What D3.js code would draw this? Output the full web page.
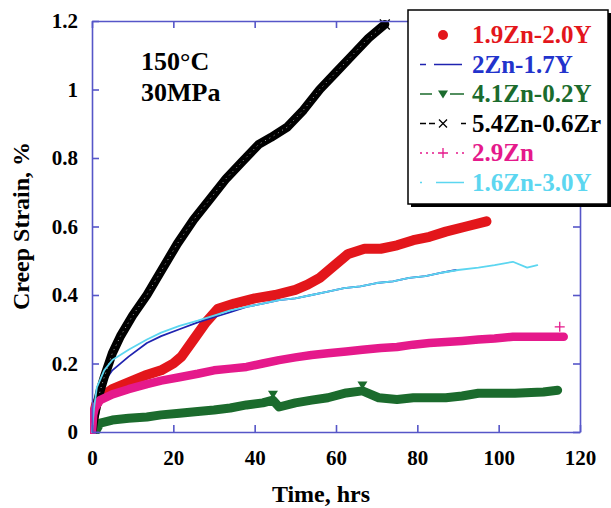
<!DOCTYPE html>
<html>
<head>
<meta charset="utf-8">
<script src="https://cdn.jsdelivr.net/npm/d3@7"></script>
<style>
  body { margin: 0; background: #fff; }
  text { font-family: "Liberation Serif", "Times New Roman", serif; font-weight: bold; }
</style>
</head>
<body>
<div id="chart"></div>
<script>
// time (hrs), creep strain (%) pairs
var red19Zn = [[0,0],[0.5,0.05],[1,0.08],[2,0.1],[5,0.125],[9,0.145],[13,0.165],[17,0.18],[20,0.2],[22,0.22],[25,0.27],[28,0.32],[31,0.36],[35,0.375],[40,0.39],[45,0.4],[50,0.415],[53,0.43],[56,0.45],[60,0.49],[63,0.52],[67,0.535],[71,0.535],[75,0.545],[79,0.56],[83,0.57],[87,0.585],[92,0.6],[97,0.615]];
var blue2Zn = [[0,0],[0.5,0.06],[1,0.1],[2,0.13],[5,0.18],[9,0.22],[13.5,0.26],[17,0.28],[21.5,0.3],[26,0.32],[30,0.335],[34,0.35],[38,0.365],[42,0.375],[46,0.385],[50,0.39],[54,0.4],[58,0.41],[62,0.42],[66,0.425],[70,0.435],[74,0.44],[78,0.45],[82,0.455],[86,0.465],[89.5,0.473]];
var green41Zn = [[0.8,0.0],[2,0.026],[5,0.035],[9,0.04],[13.5,0.044],[17,0.05],[21.5,0.055],[26,0.06],[30,0.064],[34,0.07],[38,0.079],[42,0.085],[44.5,0.093],[46,0.073],[50,0.085],[54,0.093],[58,0.1],[62.5,0.114],[66.5,0.12],[70.5,0.1],[75,0.095],[79,0.1],[83,0.1],[87,0.1],[91,0.105],[95,0.113],[100,0.113],[104,0.113],[108,0.115],[111,0.117],[114.5,0.122]];
var black54Zn = [[0,0],[0.5,0.04],[1,0.07],[2,0.12],[3,0.16],[5,0.23],[7,0.28],[10,0.34],[13.5,0.4],[17,0.47],[21,0.55],[25,0.62],[29,0.68],[33,0.74],[37,0.79],[41,0.84],[44,0.86],[48,0.89],[52,0.94],[56,1.0],[60,1.05],[64,1.1],[68,1.15],[72,1.19]];
var pink29Zn = [[0,0],[0.3,0.05],[0.7,0.07],[2,0.093],[5,0.11],[9,0.125],[13.5,0.14],[17,0.15],[21.5,0.16],[26,0.17],[30,0.18],[34,0.185],[38,0.19],[42,0.2],[46,0.21],[50,0.218],[54,0.225],[58,0.23],[62.5,0.235],[66.5,0.24],[71,0.245],[75,0.248],[79,0.255],[83,0.26],[87,0.263],[91,0.266],[95,0.27],[99,0.273],[103.5,0.278],[108,0.278],[112,0.278],[116,0.278]];
var cyan16Zn = [[0,0],[0.5,0.07],[1.2,0.13],[3,0.18],[5,0.21],[9,0.24],[13.5,0.27],[17,0.29],[21.5,0.31],[26,0.325],[30,0.34],[34,0.355],[38,0.365],[42,0.375],[46,0.385],[50,0.39],[54,0.4],[58,0.41],[62,0.42],[66,0.425],[70,0.435],[74,0.44],[78,0.45],[82,0.455],[86,0.465],[90,0.473],[95,0.48],[99,0.487],[103.5,0.497],[107,0.48],[109.5,0.487]];

var seriesNames = ["1.9Zn-2.0Y", "2Zn-1.7Y", "4.1Zn-0.2Y", "5.4Zn-0.6Zr", "2.9Zn", "1.6Zn-3.0Y"];
var seriesColors = ["#e3161b", "#1f23b0", "#1b6b2d", "#000000", "#e5198b", "#5cd6f0"];
var seriesData = [red19Zn, blue2Zn, green41Zn, black54Zn, pink29Zn, cyan16Zn];
var seriesWidths = [10, 1.8, 9, 9, 8.5, 1.8];
var seriesMarkers = ["circle", "none", "triangle", "x", "plus", "none"];
// green points that show a visible triangle marker
var greenMarked = [44.5, 66.5];

var xTicks = [0, 20, 40, 60, 80, 100, 120];
var yTicks = [0, 0.2, 0.4, 0.6, 0.8, 1, 1.2];

var width = 611, height = 508;
var margin = {top: 21, right: 31, bottom: 76, left: 92};
var plotW = width - margin.left - margin.right,
    plotH = height - margin.top - margin.bottom;
var axisColor = "#5656c8";

var svg = d3.select("#chart").append("svg")
    .attr("width", width)
    .attr("height", height);

var g = svg.append("g")
    .attr("transform", "translate(" + margin.left + "," + margin.top + ")");

var x = d3.scaleLinear().domain([0, 120]).range([0, plotW]);
var y = d3.scaleLinear().domain([0, 1.2]).range([plotH, 0]);

g.append("clipPath").attr("id", "plotclip")
    .append("rect").attr("x", -2).attr("y", -2).attr("width", plotW + 4).attr("height", plotH + 4);

var line = d3.line()
    .x(function(d) { return x(d[0]); })
    .y(function(d) { return y(d[1]); });

function drawMarker(sel, type, color, s) {
    if (type == "circle") {
        sel.append("circle").attr("r", s).attr("fill", color);
    } else if (type == "triangle") {
        sel.append("path").attr("d", "M" + (-s) + "," + (-s * 0.7) + "L" + s + "," + (-s * 0.7) + "L0," + (s * 0.9) + "Z")
            .attr("fill", color);
    } else if (type == "x") {
        sel.append("path").attr("d", "M" + (-s) + "," + (-s) + "L" + s + "," + s + "M" + (-s) + "," + s + "L" + s + "," + (-s))
            .attr("stroke", color).attr("stroke-width", 1.3).attr("fill", "none");
    } else if (type == "plus") {
        sel.append("path").attr("d", "M" + (-s) + ",0L" + s + ",0M0," + (-s) + "L0," + s)
            .attr("stroke", color).attr("stroke-width", 1.3).attr("fill", "none");
    }
}

var dataLayer = g.append("g").attr("clip-path", "url(#plotclip)");

seriesData.forEach(function(data, i) {
    dataLayer.append("path")
        .datum(data)
        .attr("d", line)
        .attr("fill", "none")
        .attr("stroke", seriesColors[i])
        .attr("stroke-width", seriesWidths[i])
        .attr("stroke-linejoin", "round")
        .attr("stroke-linecap", "round");

    if (seriesMarkers[i] == "triangle") {
        data.filter(function(d) { return greenMarked.indexOf(d[0]) >= 0; }).forEach(function(d) {
            drawMarker(dataLayer.append("g").attr("transform", "translate(" + x(d[0]) + "," + (y(d[1]) - 6) + ")"), "triangle", seriesColors[i], 5);
        });
    }
    if (seriesMarkers[i] == "x") {
        // speckled texture of the dense x markers
        dataLayer.append("path")
            .datum(data)
            .attr("d", line)
            .attr("fill", "none")
            .attr("stroke", "#aaaaaa")
            .attr("stroke-width", 1)
            .attr("stroke-dasharray", "1,4");
        var last = data[data.length - 1];
        drawMarker(dataLayer.append("g").attr("transform", "translate(" + x(last[0]) + "," + y(last[1]) + ")"), "x", "#000", 5);
    }
    if (seriesMarkers[i] == "plus") {
        var lp = data[data.length - 1];
        drawMarker(dataLayer.append("g").attr("transform", "translate(" + (x(lp[0]) - 4) + "," + (y(lp[1]) - 10) + ")"), "plus", seriesColors[i], 5);
    }
});

// axes, ticks inside on all four sides
var xAxis = d3.axisBottom(x).tickValues(xTicks).tickSizeInner(-7).tickSizeOuter(0).tickPadding(18).tickFormat(d3.format("d"));
var yAxis = d3.axisLeft(y).tickValues(yTicks).tickSizeInner(-7).tickSizeOuter(0).tickPadding(14).tickFormat(function(d) { return d == 0 ? "0" : d3.format("")(d); });
var xTop = d3.axisTop(x).tickValues(xTicks).tickSizeInner(-7).tickSizeOuter(0).tickFormat("");
var yRight = d3.axisRight(y).tickValues(yTicks).tickSizeInner(-7).tickSizeOuter(0).tickFormat("");

g.append("g").attr("class", "axis").attr("transform", "translate(0," + plotH + ")").call(xAxis);
g.append("g").attr("class", "axis").call(yAxis);
g.append("g").attr("class", "axis").call(xTop);
g.append("g").attr("class", "axis").attr("transform", "translate(" + plotW + ",0)").call(yRight);

g.selectAll(".axis path, .axis line").attr("stroke", axisColor).attr("stroke-width", 1.6);
g.selectAll(".axis text").attr("fill", "#000").style("font-size", "21px")
    .style("font-family", "'Liberation Serif', serif").style("font-weight", "bold");

// axis titles
svg.append("text")
    .attr("x", 321)
    .attr("y", 502)
    .attr("text-anchor", "middle")
    .style("font-size", "24px")
    .text("Time, hrs");

svg.append("text")
    .attr("transform", "translate(29,226) rotate(-90)")
    .attr("text-anchor", "middle")
    .style("font-size", "24px")
    .text("Creep Strain, %");

// test conditions
svg.append("text").attr("x", 141).attr("y", 70).style("font-size", "26px").text("150°C");
svg.append("text").attr("x", 141).attr("y", 101).style("font-size", "26px").text("30MPa");

// legend box with shadow
var legend = svg.append("g").attr("transform", "translate(408,10)");
legend.append("rect").attr("x", 3).attr("y", 3).attr("width", 200).attr("height", 194).attr("fill", "#000");
legend.append("rect").attr("x", 0).attr("y", 0).attr("width", 200).attr("height", 194)
    .attr("fill", "#fff").attr("stroke", "#000").attr("stroke-width", 1.5);

var legendDash = ["none", "6,8,28", "12,18,14", "6,3,6,26,6,3,6", "2,4,2,4,2,22,2,4,2,4", "2,14,28"];
seriesNames.forEach(function(name, i) {
    var ry = 25 + i * 29.5;
    var row = legend.append("g").attr("transform", "translate(0," + ry + ")");
    if (i != 0) {
        row.append("line").attr("x1", 12).attr("x2", 58).attr("y1", 0).attr("y2", 0)
            .attr("stroke", seriesColors[i]).attr("stroke-width", 1.6)
            .attr("stroke-dasharray", legendDash[i]);
    }
    var mk = row.append("g").attr("transform", "translate(35,0)");
    if (seriesMarkers[i] == "circle") drawMarker(mk, "circle", seriesColors[i], 5);
    if (seriesMarkers[i] == "triangle") drawMarker(mk, "triangle", seriesColors[i], 5);
    if (seriesMarkers[i] == "x") drawMarker(mk, "x", "#000", 4);
    if (seriesMarkers[i] == "plus") drawMarker(mk, "plus", seriesColors[i], 5);
    row.append("text")
        .attr("x", 64)
        .attr("y", 8)
        .attr("fill", seriesColors[i] == "#1f23b0" ? "#2233cc" : seriesColors[i])
        .style("font-size", "25px")
        .text(name);
});
</script>
</body>
</html>
